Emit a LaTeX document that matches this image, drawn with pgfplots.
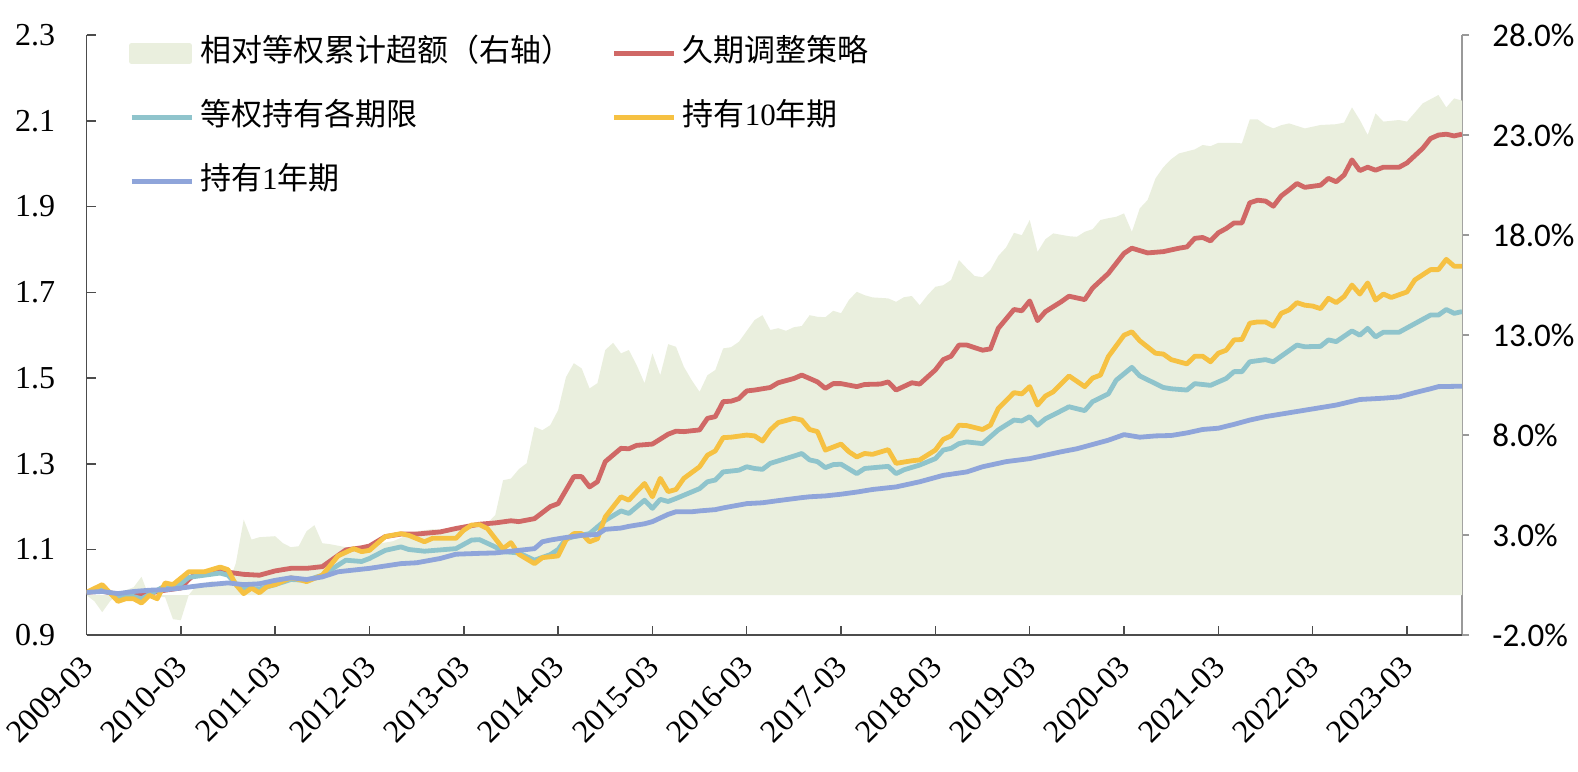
\documentclass[border=0pt]{standalone}
\usepackage{pgfplots}
\pgfplotsset{compat=1.18}
\usepackage{fontspec}
\setmainfont{Liberation Serif}
\newfontfamily\cjk{Noto Sans CJK SC}
\newfontfamily\calibri{Carlito}
\definecolor{areacol}{RGB}{234,239,222}
\definecolor{redc}{RGB}{208,104,102}
\definecolor{tealc}{RGB}{143,196,204}
\definecolor{yelc}{RGB}{246,193,66}
\definecolor{bluec}{RGB}{143,165,218}
\begin{document}
\begin{tikzpicture}
\begin{axis}[
  at={(0,0)}, anchor=south west,
  scale only axis, width=687.75bp, height=300bp,
  xmin=0, xmax=175, ymin=-2, ymax=28,
  axis x line=none, axis y line*=right,
  ytick={-2,3,8,13,18,23,28},
  yticklabels={-2.0\%,3.0\%,8.0\%,13.0\%,18.0\%,23.0\%,28.0\%},
  tick align=outside, major tick length=3.5bp,
  yticklabel style={font=\calibri\fontsize{16.5bp}{19bp}\selectfont, inner sep=0pt, anchor=west, xshift=11.5bp},
  axis line style={draw=black!40, line width=0.75bp},
  ytick style={draw=black!40, line width=0.75bp},
]
\addplot[fill=areacol, draw=none] coordinates {
(0,0)(1,-0.3)(2,-0.85)(3,-0.3)(4,0.1)(6,0.4)(7,0.92)(8,-0.1)(10,-0.1)(11,-1.2)(12,-1.25)(13,0.0)(14,0.5)(16,0.7)(18,0.5)(19,1.6)(20,3.78)(21,2.78)(22,2.9)(24,2.95)(25,2.6)(26,2.4)(27,2.45)(28,3.2)(29,3.5)(30,2.6)(31,2.55)(33,2.4)(36,2.5)(39,2.7)(42,3.2)(44,3.3)(47,3.25)(50,3.5)(51,3.6)(52,4.0)(53,5.75)(54,5.83)(55,6.3)(56,6.6)(57,8.42)(58,8.25)(59,8.5)(60,9.25)(61,10.9)(62,11.6)(63,11.34)(64,10.34)(65,10.6)(66,12.26)(67,12.62)(68,12.09)(69,12.26)(70,11.5)(71,10.6)(72,12.09)(73,11.0)(74,12.55)(75,12.42)(76,11.42)(77,10.75)(78,10.17)(79,11.0)(80,11.26)(81,12.34)(82,12.4)(83,12.67)(85,13.76)(86,14.0)(87,13.26)(88,13.35)(89,13.22)(90,13.4)(91,13.46)(92,14.0)(93,13.92)(94,13.9)(95,14.22)(96,14.1)(97,14.76)(98,15.17)(99,15.0)(100,14.89)(102,14.84)(103,14.67)(104,14.9)(105,14.96)(106,14.5)(107,15.0)(108,15.42)(109,15.5)(110,15.76)(111,16.76)(112,16.34)(113,15.96)(114,15.9)(115,16.26)(116,16.96)(117,17.39)(118,18.12)(119,18.0)(120,18.76)(121,17.17)(122,17.8)(123,18.09)(125,17.95)(126,17.92)(127,18.17)(128,18.3)(129,18.76)(130,18.85)(131,18.92)(132,19.09)(133,18.17)(134,19.34)(135,19.76)(136,20.84)(137,21.4)(138,21.8)(139,22.09)(141,22.29)(142,22.51)(143,22.45)(144,22.62)(146,22.62)(147,22.59)(148,23.79)(149,23.79)(150,23.51)(151,23.34)(152,23.5)(153,23.59)(155,23.34)(157,23.51)(159,23.55)(160,23.63)(161,24.39)(162,23.76)(163,23.01)(164,24.09)(165,23.68)(167,23.76)(168,23.68)(169,24.13)(170,24.59)(172,25.01)(173,24.39)(174,24.84)(175,24.73)
} \closedcycle;
\end{axis}
\begin{axis}[
  at={(0,0)}, anchor=south west,
  scale only axis, width=687.75bp, height=300bp,
  xmin=0, xmax=175, ymin=0.9, ymax=2.3,
  axis x line*=bottom, axis y line*=left,
  xtick={0,12,24,36,48,60,72,84,96,108,120,132,144,156,168},
  xticklabels={2009-03,2010-03,2011-03,2012-03,2013-03,2014-03,2015-03,2016-03,2017-03,2018-03,2019-03,2020-03,2021-03,2022-03,2023-03},
  ytick={0.9,1.1,1.3,1.5,1.7,1.9,2.1,2.3},
  yticklabels={0.9,1.1,1.3,1.5,1.7,1.9,2.1,2.3},
  tick align=inside, major tick length=4.5bp,
  yticklabel style={font=\fontsize{16bp}{19bp}\selectfont, inner sep=0pt, anchor=east, xshift=-15.5bp},
  xticklabel style={font=\fontsize{16bp}{19bp}\selectfont, inner sep=0pt, yshift=-13bp, xshift=0.5bp, rotate=45, anchor=east},
  axis line style={draw=black!70, line width=0.75bp},
  tick style={draw=black!70, line width=0.75bp},
  every axis plot/.append style={line width=2.4bp, line join=round},
  legend columns=2,
  legend cell align=left,
  legend image code/.code={\draw[#1] (0bp,0bp) -- (30bp,0bp);},
  legend style={at={(0.0308,1)}, anchor=north west, draw=none, fill=none, yshift=-2bp,
    inner sep=0pt, row sep=18bp,
    font=\cjk\fontsize{15.5bp}{18bp}\selectfont,
    nodes={inner sep=0pt, text height=11bp, text depth=3bp},
    /tikz/every odd column/.append style={column sep=3bp},
    /tikz/every even column/.append style={column sep=20bp}},
]
\addlegendimage{legend image code/.code={\fill[areacol] (0bp,-4bp) rectangle (29bp,4bp);}}
\addlegendentry{相对等权累计超额（右轴）}
\addplot[redc] coordinates {
(0,1.000)(2,1.003)(4,0.995)(6,0.993)(8,0.998)(10,1.005)(12,1.010)(13,1.030)(14,1.045)(16,1.046)(17,1.050)(18,1.047)(20,1.042)(22,1.040)(24,1.050)(26,1.056)(28,1.056)(30,1.060)(33,1.099)(35,1.104)(36,1.108)(38,1.130)(40,1.136)(42,1.136)(45,1.141)(47,1.149)(50,1.159)(52,1.162)(54,1.167)(55,1.165)(57,1.172)(59,1.200)(60,1.207)(62,1.270)(63,1.270)(64,1.246)(65,1.258)(66,1.305)(68,1.336)(69,1.335)(70,1.343)(72,1.346)(74,1.369)(75,1.376)(76,1.375)(78,1.379)(79,1.406)(80,1.410)(81,1.445)(82,1.446)(83,1.452)(84,1.470)(85,1.472)(87,1.478)(88,1.489)(90,1.499)(91,1.507)(92,1.499)(93,1.491)(94,1.476)(95,1.487)(96,1.487)(98,1.480)(99,1.485)(101,1.486)(102,1.491)(103,1.472)(105,1.489)(106,1.486)(108,1.519)(109,1.543)(110,1.551)(111,1.577)(112,1.577)(114,1.565)(115,1.568)(116,1.616)(118,1.660)(119,1.657)(120,1.680)(121,1.634)(122,1.655)(124,1.678)(125,1.691)(127,1.683)(128,1.710)(130,1.744)(132,1.791)(133,1.803)(135,1.792)(137,1.795)(139,1.803)(140,1.806)(141,1.826)(142,1.828)(143,1.820)(144,1.839)(145,1.849)(146,1.862)(147,1.862)(148,1.909)(149,1.915)(150,1.913)(151,1.901)(152,1.925)(153,1.939)(154,1.954)(155,1.945)(157,1.950)(158,1.966)(159,1.958)(160,1.974)(161,2.009)(162,1.984)(163,1.992)(164,1.985)(165,1.992)(167,1.992)(168,2.002)(170,2.036)(171,2.059)(172,2.067)(173,2.069)(174,2.065)(175,2.069)
};
\addlegendentry{久期调整策略}
\addplot[tealc] coordinates {
(0,1.000)(2,1.008)(4,0.990)(6,0.990)(7,0.985)(8,0.995)(10,1.015)(12,1.020)(13,1.035)(15,1.040)(17,1.045)(18,1.040)(19,1.020)(20,1.010)(22,1.008)(24,1.018)(26,1.030)(28,1.028)(30,1.040)(33,1.075)(35,1.072)(36,1.079)(38,1.098)(40,1.106)(41,1.100)(43,1.096)(47,1.102)(49,1.122)(50,1.123)(52,1.106)(53,1.095)(55,1.092)(57,1.075)(59,1.088)(60,1.100)(61,1.125)(62,1.130)(64,1.137)(66,1.168)(68,1.190)(69,1.184)(71,1.215)(72,1.196)(73,1.217)(74,1.212)(75,1.219)(78,1.242)(79,1.258)(80,1.262)(81,1.281)(83,1.285)(84,1.293)(85,1.289)(86,1.287)(87,1.301)(90,1.318)(91,1.324)(92,1.309)(93,1.305)(94,1.291)(95,1.298)(96,1.299)(98,1.277)(99,1.289)(102,1.294)(103,1.277)(104,1.286)(106,1.297)(108,1.312)(109,1.332)(110,1.336)(111,1.347)(112,1.351)(114,1.347)(115,1.363)(116,1.379)(118,1.402)(119,1.400)(120,1.410)(121,1.390)(122,1.405)(123,1.414)(125,1.433)(127,1.424)(128,1.445)(130,1.463)(131,1.495)(133,1.525)(134,1.505)(136,1.487)(137,1.478)(138,1.475)(140,1.472)(141,1.487)(143,1.483)(145,1.499)(146,1.515)(147,1.515)(148,1.538)(150,1.543)(151,1.538)(152,1.551)(153,1.564)(154,1.577)(155,1.573)(157,1.574)(158,1.589)(159,1.585)(161,1.610)(162,1.600)(163,1.616)(164,1.596)(165,1.607)(167,1.607)(169,1.627)(171,1.647)(172,1.647)(173,1.660)(174,1.651)(175,1.655)
};
\addlegendentry{等权持有各期限}
\addplot[yelc] coordinates {
(0,1.000)(2,1.018)(4,0.979)(5,0.985)(6,0.985)(7,0.975)(8,0.993)(9,0.985)(10,1.022)(11,1.018)(13,1.048)(15,1.048)(17,1.059)(18,1.053)(19,1.018)(20,0.997)(21,1.010)(22,0.999)(23,1.014)(24,1.018)(26,1.034)(27,1.030)(28,1.025)(30,1.040)(32,1.085)(34,1.102)(35,1.095)(36,1.098)(38,1.130)(40,1.137)(41,1.133)(43,1.118)(44,1.126)(47,1.126)(48,1.145)(49,1.157)(50,1.158)(51,1.149)(53,1.102)(54,1.116)(55,1.089)(57,1.067)(58,1.081)(60,1.085)(61,1.122)(62,1.137)(63,1.137)(64,1.118)(65,1.125)(66,1.176)(68,1.223)(69,1.215)(70,1.235)(71,1.254)(72,1.223)(73,1.266)(74,1.235)(75,1.240)(76,1.266)(78,1.293)(79,1.320)(80,1.330)(81,1.361)(82,1.362)(84,1.367)(85,1.365)(86,1.353)(87,1.379)(88,1.396)(90,1.406)(91,1.402)(92,1.380)(93,1.375)(94,1.332)(96,1.346)(97,1.328)(98,1.316)(99,1.324)(100,1.322)(102,1.333)(103,1.301)(105,1.307)(106,1.309)(108,1.332)(109,1.357)(110,1.365)(111,1.390)(112,1.389)(114,1.380)(115,1.390)(116,1.429)(118,1.466)(119,1.463)(120,1.480)(121,1.437)(122,1.458)(123,1.468)(125,1.505)(127,1.480)(128,1.500)(129,1.507)(130,1.550)(132,1.600)(133,1.608)(134,1.587)(136,1.558)(137,1.556)(138,1.543)(140,1.533)(141,1.551)(142,1.551)(143,1.538)(144,1.558)(145,1.565)(146,1.589)(147,1.590)(148,1.628)(149,1.631)(150,1.631)(151,1.621)(152,1.651)(153,1.659)(154,1.676)(155,1.670)(156,1.668)(157,1.662)(158,1.686)(159,1.676)(160,1.690)(161,1.717)(162,1.696)(163,1.722)(164,1.682)(165,1.696)(166,1.688)(168,1.701)(169,1.729)(171,1.753)(172,1.753)(173,1.777)(174,1.761)(175,1.761)
};
\addlegendentry{{\cjk 持有}{\rmfamily 10}{\cjk 年期}}
\addplot[bluec] coordinates {
(0,1.000)(2,1.002)(4,0.997)(6,1.002)(8,1.005)(10,1.006)(12,1.010)(15,1.017)(18,1.022)(20,1.018)(22,1.020)(24,1.028)(26,1.034)(28,1.030)(30,1.036)(32,1.048)(36,1.056)(40,1.067)(42,1.069)(45,1.079)(47,1.089)(50,1.091)(52,1.092)(55,1.098)(57,1.102)(58,1.118)(59,1.122)(61,1.128)(63,1.133)(65,1.135)(66,1.147)(68,1.150)(69,1.154)(71,1.160)(72,1.165)(74,1.182)(75,1.188)(77,1.188)(78,1.190)(80,1.193)(81,1.197)(84,1.207)(86,1.209)(88,1.214)(91,1.221)(92,1.223)(94,1.225)(96,1.229)(98,1.234)(100,1.240)(103,1.246)(106,1.258)(109,1.273)(112,1.281)(114,1.293)(117,1.305)(120,1.312)(122,1.320)(124,1.328)(126,1.335)(128,1.345)(130,1.355)(132,1.368)(134,1.362)(136,1.365)(138,1.366)(140,1.372)(142,1.380)(144,1.383)(146,1.392)(148,1.402)(150,1.410)(153,1.419)(156,1.428)(159,1.437)(162,1.450)(165,1.453)(167,1.456)(169,1.466)(171,1.475)(172,1.480)(175,1.481)
};
\addlegendentry{{\cjk 持有}{\rmfamily 1}{\cjk 年期}}
\end{axis}
\pgfresetboundingbox
\useasboundingbox (-43.25bp,-68bp) rectangle (745.75bp,317.6bp);
\end{tikzpicture}
\end{document}
